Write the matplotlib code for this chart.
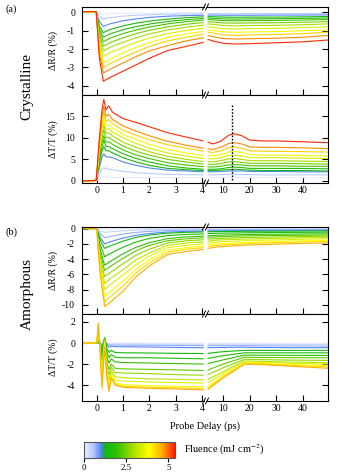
import numpy as np
import matplotlib
import matplotlib.pyplot as plt
from matplotlib.colors import LinearSegmentedColormap, Normalize
from matplotlib.colorbar import ColorbarBase

plt.rcParams['font.family'] = ['Liberation Serif', 'DejaVu Serif']
plt.rcParams['mathtext.fontset'] = 'stix'
plt.rcParams['axes.unicode_minus'] = False

# ---------------- data ----------------
# fluence of each trace (mJ cm^-2), used only for the colour
fluence_cryst = [0.1, 0.5, 1.0, 1.35, 1.7, 2.1, 2.5, 2.9, 3.4, 3.8, 4.3, 4.8, 5.3]
fluence_amorph = [0.1, 0.4, 0.7, 1.0, 1.3, 1.6, 1.9, 2.3, 2.7, 3.1, 3.5, 3.9, 4.2, 4.6]

# (a) crystalline dR/R
t_cr_R_short = [-0.55, -0.02, 0.1, 0.25, 0.5, 1.0, 1.5, 2.0, 2.7, 3.4, 4.05]
t_cr_R_long = [4.3, 6, 10, 15, 20, 30, 40, 49.5]
cr_R_short = [
    [0, 0, -0.05, -0.08, -0.06, -0.04, -0.03, -0.03, -0.02, -0.02, -0.02],
    [0.01, 0.01, -0.24, -0.35, -0.28, -0.2, -0.15, -0.12, -0.09, -0.08, -0.07],
    [0.01, 0.01, -0.5, -0.76, -0.62, -0.45, -0.35, -0.27, -0.2, -0.17, -0.15],
    [0.01, 0.01, -0.75, -1.1, -0.93, -0.73, -0.58, -0.47, -0.36, -0.28, -0.24],
    [0.02, 0.02, -0.9, -1.35, -1.17, -0.94, -0.77, -0.63, -0.49, -0.39, -0.33],
    [0.02, 0.02, -1.05, -1.6, -1.4, -1.15, -0.95, -0.79, -0.62, -0.5, -0.42],
    [0.02, 0.02, -1.2, -1.85, -1.65, -1.38, -1.15, -0.97, -0.78, -0.64, -0.55],
    [0.03, 0.03, -1.4, -2.1, -1.9, -1.62, -1.38, -1.17, -0.95, -0.8, -0.69],
    [0.03, 0.03, -1.6, -2.4, -2.2, -1.9, -1.62, -1.4, -1.15, -0.98, -0.86],
    [0.04, 0.04, -1.8, -2.75, -2.55, -2.2, -1.9, -1.65, -1.35, -1.17, -1.03],
    [0.04, 0.04, -2.0, -3.0, -2.8, -2.45, -2.15, -1.85, -1.55, -1.35, -1.18],
    [0.05, 0.05, -2.2, -3.3, -3.1, -2.75, -2.4, -2.1, -1.8, -1.55, -1.38],
    [0.05, 0.05, -2.5, -3.75, -3.55, -3.2, -2.85, -2.5, -2.07, -1.85, -1.63],
]
cr_R_long = [
    [-0.02, -0.02, -0.02, -0.02, -0.02, -0.02, -0.02, -0.02],
    [-0.06, -0.06, -0.06, -0.07, -0.06, -0.06, -0.06, -0.06],
    [-0.14, -0.14, -0.15, -0.15, -0.15, -0.14, -0.14, -0.13],
    [-0.22, -0.23, -0.25, -0.26, -0.25, -0.25, -0.24, -0.22],
    [-0.3, -0.32, -0.35, -0.36, -0.35, -0.34, -0.32, -0.3],
    [-0.38, -0.4, -0.44, -0.45, -0.44, -0.43, -0.41, -0.38],
    [-0.5, -0.52, -0.57, -0.58, -0.57, -0.56, -0.53, -0.5],
    [-0.62, -0.65, -0.71, -0.73, -0.71, -0.7, -0.67, -0.62],
    [-0.78, -0.81, -0.88, -0.9, -0.88, -0.86, -0.82, -0.78],
    [-0.94, -0.98, -1.06, -1.08, -1.06, -1.04, -1.0, -0.94],
    [-1.07, -1.12, -1.22, -1.25, -1.22, -1.2, -1.15, -1.07],
    [-1.25, -1.32, -1.42, -1.45, -1.43, -1.4, -1.35, -1.25],
    [-1.47, -1.55, -1.68, -1.72, -1.7, -1.65, -1.6, -1.5],
]

# (a) crystalline dT/T
t_cr_T_short = [-0.55, -0.02, 0.1, 0.2, 0.27, 0.35, 0.45, 0.6, 1.0, 1.5, 2.0, 2.7, 3.4, 4.05]
t_cr_T_long = [4.3, 6, 9, 12, 14, 17, 20, 25, 30, 40, 49.5]
cr_T_short = [
    [0, 0.0, 0.4, 0.8, 1.0, 0.9, 0.85, 0.8, 0.78, 0.76, 0.75, 0.75, 0.75, 0.75],
    [0, 0.05, 1.5, 2.7, 3.1, 2.8, 2.7, 2.6, 2.2, 1.9, 1.7, 1.5, 1.45, 1.4],
    [0, 0.05, 3.0, 5.5, 6.3, 5.6, 5.6, 5.4, 4.4, 3.6, 3.0, 2.5, 2.3, 2.1],
    [0, 0.1, 4.0, 7.0, 8.0, 7.0, 7.0, 6.5, 5.4, 4.4, 3.6, 2.9, 2.6, 2.4],
    [0, 0.1, 4.8, 8.0, 9.5, 8.0, 8.0, 7.5, 6.3, 5.2, 4.4, 3.5, 3.0, 2.7],
    [0, 0.1, 5.3, 9.0, 10.5, 9.0, 9.1, 8.5, 7.2, 6.0, 5.2, 4.2, 3.7, 3.3],
    [0, 0.1, 6.0, 10.0, 11.8, 10.0, 10.2, 9.5, 8.1, 6.9, 6.0, 5.0, 4.4, 3.9],
    [0, 0.1, 6.5, 11.0, 13.0, 11.0, 11.2, 10.5, 9.0, 7.8, 6.8, 5.7, 5.0, 4.5],
    [0, 0.1, 7.0, 12.0, 14.0, 12.0, 12.2, 11.4, 10.0, 8.7, 7.6, 6.5, 5.8, 5.2],
    [0, 0.1, 7.5, 12.8, 15.0, 12.8, 13.2, 12.3, 10.8, 9.6, 8.5, 7.3, 6.5, 5.9],
    [0, 0.1, 8.2, 13.8, 16.0, 13.8, 14.3, 13.3, 11.8, 10.6, 9.6, 8.4, 7.6, 6.9],
    [0, 0.1, 9.0, 15.0, 17.3, 15.0, 15.5, 14.3, 12.8, 11.6, 10.5, 9.2, 8.3, 7.6],
    [0, 0.1, 10.0, 16.5, 19.0, 16.5, 17.5, 16.0, 14.5, 13.6, 12.6, 11.2, 10.2, 9.3],
]
cr_T_long = [
    [0.75, 0.75, 0.75, 0.78, 0.78, 0.78, 0.75, 0.75, 0.72, 0.7, 0.7],
    [1.4, 1.4, 1.45, 1.5, 1.5, 1.5, 1.45, 1.4, 1.4, 1.4, 1.4],
    [2.1, 2.1, 2.2, 2.3, 2.3, 2.3, 2.2, 2.2, 2.2, 2.1, 2.1],
    [2.4, 2.4, 2.5, 2.6, 2.7, 2.6, 2.5, 2.4, 2.4, 2.4, 2.3],
    [2.7, 2.7, 2.8, 3.1, 3.2, 3.1, 2.9, 2.9, 2.9, 2.9, 2.8],
    [3.3, 3.2, 3.4, 3.7, 3.8, 3.7, 3.5, 3.5, 3.5, 3.4, 3.4],
    [3.9, 3.8, 4.0, 4.4, 4.5, 4.3, 4.1, 4.1, 4.1, 4.0, 3.9],
    [4.5, 4.4, 4.7, 5.1, 5.2, 5.0, 4.7, 4.7, 4.7, 4.6, 4.5],
    [5.2, 5.1, 5.4, 5.9, 6.0, 5.8, 5.4, 5.4, 5.4, 5.3, 5.2],
    [5.9, 5.8, 6.1, 6.7, 6.9, 6.6, 6.1, 6.0, 6.0, 5.9, 5.8],
    [6.8, 6.6, 7.0, 7.7, 7.9, 7.6, 7.0, 6.9, 6.9, 6.8, 6.7],
    [7.5, 7.3, 7.8, 8.7, 8.9, 8.6, 7.9, 7.8, 7.8, 7.7, 7.5],
    [9.0, 8.6, 9.2, 10.6, 11.0, 10.5, 9.5, 9.3, 9.3, 9.1, 8.9],
]
marker_delay = 13.5

# (b) amorphous dR/R
t_am_R_short = [-0.55, 0.0, 0.12, 0.3, 0.5, 1.0, 1.5, 2.0, 2.7, 3.4, 4.05]
t_am_R_long = [4.3, 8, 15, 20, 30, 40, 49.5]
am_R_short = [
    [0, 0, -0.06, -0.1, -0.09, -0.06, -0.04, -0.03, -0.02, -0.02, -0.02],
    [0, 0, -0.28, -0.5, -0.43, -0.3, -0.2, -0.15, -0.11, -0.09, -0.08],
    [0, 0, -0.65, -1.2, -1.05, -0.72, -0.5, -0.37, -0.26, -0.22, -0.2],
    [0, 0, -1.1, -2.0, -1.75, -1.25, -0.88, -0.65, -0.46, -0.38, -0.34],
    [0, 0, -1.4, -2.6, -2.3, -1.65, -1.15, -0.85, -0.6, -0.5, -0.45],
    [0, 0, -2.0, -3.7, -3.3, -2.45, -1.75, -1.3, -0.92, -0.78, -0.7],
    [0, 0, -2.6, -4.8, -4.35, -3.3, -2.45, -1.85, -1.32, -1.1, -1.0],
    [0, 0, -3.0, -5.5, -5.0, -3.9, -2.9, -2.2, -1.6, -1.35, -1.22],
    [0, 0, -3.5, -6.3, -5.8, -4.6, -3.5, -2.7, -1.9, -1.6, -1.48],
    [0, 0, -4.0, -7.2, -6.6, -5.4, -4.1, -3.2, -2.2, -1.9, -1.75],
    [0, 0, -4.4, -8.0, -7.4, -6.1, -4.7, -3.6, -2.5, -2.2, -2.0],
    [0, 0, -4.9, -8.9, -8.3, -6.9, -5.3, -4.1, -2.85, -2.5, -2.3],
    [0, 0, -5.3, -9.6, -9.0, -7.5, -5.8, -4.5, -3.1, -2.7, -2.5],
    [0, 0, -5.6, -10.2, -9.7, -8.2, -6.3, -4.9, -3.4, -3.0, -2.75],
]
am_R_long = [
    [-0.02, -0.02, -0.02, -0.02, -0.02, -0.02, -0.02],
    [-0.08, -0.07, -0.07, -0.07, -0.06, -0.06, -0.06],
    [-0.19, -0.18, -0.17, -0.16, -0.15, -0.15, -0.14],
    [-0.32, -0.3, -0.28, -0.27, -0.26, -0.25, -0.24],
    [-0.43, -0.4, -0.38, -0.36, -0.34, -0.33, -0.32],
    [-0.66, -0.62, -0.58, -0.55, -0.52, -0.5, -0.48],
    [-0.95, -0.88, -0.82, -0.78, -0.75, -0.72, -0.7],
    [-1.15, -1.08, -1.0, -0.96, -0.92, -0.88, -0.85],
    [-1.4, -1.3, -1.22, -1.16, -1.1, -1.05, -1.0],
    [-1.65, -1.5, -1.42, -1.35, -1.3, -1.22, -1.18],
    [-1.9, -1.75, -1.65, -1.55, -1.5, -1.4, -1.35],
    [-2.15, -2.0, -1.9, -1.8, -1.7, -1.6, -1.55],
    [-2.35, -2.2, -2.05, -1.95, -1.85, -1.75, -1.7],
    [-2.6, -2.4, -2.25, -2.15, -2.05, -1.95, -1.9],
]

# (b) amorphous dT/T
t_am_T_short = [-0.55, 0.0, 0.06, 0.12, 0.2, 0.3, 0.4, 0.47, 0.55, 0.7, 1.0, 2.0, 3.0, 4.05]
t_am_T_long = [4.3, 10, 18, 25, 35, 49.5]
am_T_short = [
    [0, 0, 0, 0, 0, 0.02, 0, 0, 0, 0, 0, -0.01, -0.02, -0.02],
    [0, 0, 0, 0, -0.05, 0.05, -0.05, -0.1, -0.1, -0.1, -0.1, -0.11, -0.12, -0.12],
    [0, 0, 0.0, 0.0, -0.1, 0.1, -0.1, -0.2, -0.18, -0.2, -0.2, -0.22, -0.24, -0.25],
    [0, 0, 0.0, 0.0, -0.3, 0.2, -0.2, -0.4, -0.3, -0.35, -0.35, -0.38, -0.42, -0.45],
    [0, 0, 0.05, 0.0, -0.6, 0.4, -0.6, -0.9, -0.7, -0.9, -0.93, -0.95, -0.98, -1.0],
    [0, 0, 0.1, 0.0, -0.9, 0.5, -1.0, -1.4, -1.1, -1.35, -1.4, -1.4, -1.45, -1.5],
    [0, 0, 0.2, 0.0, -1.3, 0.5, -1.5, -1.9, -1.5, -1.8, -1.85, -1.9, -1.95, -2.0],
    [0, 0, 0.3, 0.0, -1.9, 0.4, -2.0, -2.5, -2.0, -2.4, -2.45, -2.5, -2.55, -2.6],
    [0, 0, 0.5, 0.0, -2.4, 0.3, -2.4, -3.0, -2.3, -2.8, -2.85, -2.9, -3.0, -3.05],
    [0, 0, 0.8, -0.1, -2.9, 0.2, -2.7, -3.5, -2.6, -3.2, -3.3, -3.4, -3.45, -3.5],
    [0, 0, 1.1, -0.2, -3.3, 0.1, -3.0, -3.9, -2.9, -3.5, -3.6, -3.7, -3.75, -3.8],
    [0, 0, 1.4, -0.3, -3.7, 0.0, -3.2, -4.2, -3.1, -3.8, -3.95, -4.05, -4.1, -4.15],
    [0, 0, 1.7, -0.4, -4.0, -0.2, -3.4, -4.4, -3.2, -3.9, -4.1, -4.2, -4.25, -4.3],
    [0, 0, 1.9, -0.5, -4.3, -0.4, -3.6, -4.6, -3.3, -4.0, -4.2, -4.3, -4.35, -4.45],
]
am_T_long = [
    [-0.02, -0.02, -0.02, -0.03, -0.04, -0.05],
    [-0.12, -0.12, -0.12, -0.13, -0.14, -0.15],
    [-0.25, -0.25, -0.25, -0.27, -0.28, -0.3],
    [-0.44, -0.42, -0.4, -0.42, -0.44, -0.45],
    [-0.98, -0.82, -0.7, -0.7, -0.7, -0.7],
    [-1.45, -1.2, -0.93, -0.93, -0.93, -0.93],
    [-1.95, -1.6, -1.15, -1.16, -1.17, -1.18],
    [-2.55, -2.0, -1.35, -1.37, -1.39, -1.4],
    [-3.0, -2.35, -1.55, -1.58, -1.62, -1.65],
    [-3.45, -2.7, -1.7, -1.75, -1.8, -1.87],
    [-3.75, -2.9, -1.8, -1.85, -1.92, -2.0],
    [-4.1, -3.1, -1.9, -1.95, -2.05, -2.15],
    [-4.25, -3.2, -1.95, -2.0, -2.1, -2.27],
    [-4.4, -3.3, -2.0, -2.05, -2.2, -2.4],
]

# ---------------- styling ----------------
cmap = LinearSegmentedColormap.from_list('fluence', [
    (0.0, '#eef2ff'), (0.10, '#b4c8ff'), (0.19, '#4f80f5'),
    (0.23, '#10b810'), (0.36, '#30c000'), (0.55, '#b0e000'),
    (0.72, '#ffff00'), (0.86, '#ffaa00'), (1.0, '#ff1a00')])
norm = Normalize(0, 5.4)

W, H = 339, 473
fig = plt.figure(figsize=(W / 100, H / 100), dpi=100)

XL0, XL1 = 82, 204      # short-delay axis (pixels)
XR0, XR1 = 207, 328     # long-delay axis (pixels)
FS = 7


def px_box(x0, x1, y0, y1):
    return [x0 / W, 1 - y1 / H, (x1 - x0) / W, (y1 - y0) / H]


def make_pair(y0, y1, ylim, yticks, show_xlabels):
    axl = fig.add_axes(px_box(XL0, XL1, y0, y1))
    axr = fig.add_axes(px_box(XR0, XR1, y0, y1))
    axl.set_xlim(-0.56, 4.08)
    axr.set_xlim(3.9, 49.5)
    for ax in (axl, axr):
        ax.set_ylim(*ylim)
        ax.set_yticks(yticks)
        ax.tick_params(direction='in', length=4, width=0.8, labelsize=FS, pad=5)
        ax.tick_params(axis='x', pad=2.5)
        for s in ax.spines.values():
            s.set_linewidth(0.8)
    axl.spines['right'].set_visible(False)
    axr.spines['left'].set_visible(False)
    axl.set_xticks([0, 1, 2, 3, 4])
    axr.set_xticks([10, 20, 30, 40])
    axr.yaxis.tick_right()
    axr.tick_params(axis='y', labelright=False)
    if not show_xlabels:
        axl.tick_params(axis='x', labelbottom=False)
        axr.tick_params(axis='x', labelbottom=False)
    return axl, axr


def draw(axl, axr, ts, tl, short, long_, fluences):
    for i, f in enumerate(fluences):
        c = cmap(norm(f))
        axl.plot(ts, short[i], color=c, lw=0.8)
        axr.plot(tl, long_[i], color=c, lw=0.8)


def break_marks(y):
    for dx in (-1.5, 1.5):
        xc = (XL1 + XR0) / 2 + dx
        fig.add_artist(plt.Line2D([(xc - 1.5) / W, (xc + 1.5) / W],
                                  [1 - (y + 3) / H, 1 - (y - 3) / H],
                                  color='black', lw=0.7))


# (a) crystalline
a1l, a1r = make_pair(7, 95, (-4.5, 0.3), [0, -1, -2, -3, -4], False)
draw(a1l, a1r, t_cr_R_short, t_cr_R_long, cr_R_short, cr_R_long, fluence_cryst)
a2l, a2r = make_pair(95, 183, (-0.5, 20), [0, 5, 10, 15], True)
draw(a2l, a2r, t_cr_T_short, t_cr_T_long, cr_T_short, cr_T_long, fluence_cryst)
a2r.vlines(marker_delay, 0.3, 17.7, colors='black', linestyles=(0, (1.2, 1.2)), lw=1.0)

# (b) amorphous
b1l, b1r = make_pair(227, 314, (-11.2, 0.2), [0, -2, -4, -6, -8, -10], False)
draw(b1l, b1r, t_am_R_short, t_am_R_long, am_R_short, am_R_long, fluence_amorph)
b2l, b2r = make_pair(314, 401, (-5.5, 2.75), [-4, -2, 0, 2], True)
draw(b2l, b2r, t_am_T_short, t_am_T_long, am_T_short, am_T_long, fluence_amorph)

for y in (7, 95, 183, 227, 314, 401):
    break_marks(y)

# labels
fig.text(5 / W, 1 - 9 / H, '(a)', fontsize=7.5, va='center')
fig.text(5 / W, 1 - 232 / H, '(b)', fontsize=7.5, va='center')
fig.text(27 / W, 1 - 86 / H, 'Crystalline', fontsize=11, rotation=90, ha='center', va='center')
fig.text(27 / W, 1 - 294 / H, 'Amorphous', fontsize=11, rotation=90, ha='center', va='center')
for yc, lab in ((51, 'ΔR/R (%)'), (139, 'ΔT/T (%)'), (270, 'ΔR/R (%)'), (357, 'ΔT/T (%)')):
    fig.text(53 / W, 1 - yc / H, lab, fontsize=FS, rotation=90, ha='center', va='center')
fig.text(205 / W, 1 - 426 / H, 'Probe Delay (ps)', fontsize=7.5, ha='center', va='center')

# colour bar
cax = fig.add_axes(px_box(84, 175, 442, 458))
cb = ColorbarBase(cax, cmap=cmap, norm=norm, orientation='horizontal', ticks=[0, 2.5, 5])
cb.outline.set_edgecolor('#555555')
cb.outline.set_linewidth(0.8)
cax.tick_params(labelsize=6.5, length=3, width=0.8, pad=1.5)
cax.set_xticklabels(['0', '2.5', '5'])
fig.text(184 / W, 1 - 450 / H, 'Fluence (mJ cm$^{-2}$)', fontsize=7.5, va='center')

fig.savefig('out.png', dpi=100)
